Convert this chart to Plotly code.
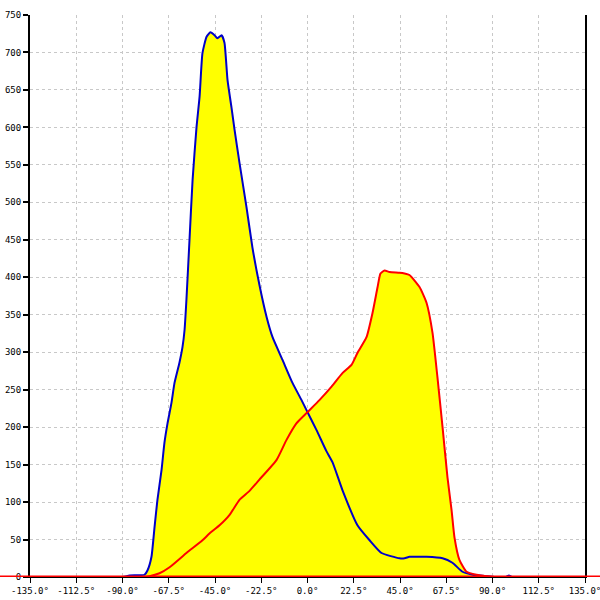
import plotly.graph_objects as go

# Blue series (angle in degrees, count)
blue_x = [-135, -90, -86.6, -79.3, -77.8, -75.9, -74.4, -73.0, -71.0, -69.6, -68.1, -66.2, -64.7,
          -62.3, -60.8, -59.8, -58.9, -57.4, -55.9, -54.0, -52.5, -51.1, -49.1, -47.2, -45.2,
          -43.8, -41.8, -40.4, -38.9, -37.0, -35.5, -33.1, -29.7, -26.8, -23.4, -19.9, -17.0,
          -12.2, -7.3, -2.9, 0.0, 4.4, 9.2, 12.2, 17.0, 24.3, 30.2, 36.0, 44.8, 47.2, 49.6,
          51.1, 57.9, 65.7, 70.5, 75.4, 80.3, 87.1, 91.0, 96.5, 98.0, 99.5, 135]
blue_y = [0, 0, 2, 3, 9, 27, 67, 103, 143, 179, 205, 232, 259,
          286, 307, 330, 370, 450, 530, 600, 641, 699, 721, 727, 723,
          719, 723, 713, 663, 627, 597, 553, 494, 440, 390, 347, 320,
          290, 259, 236, 220, 196, 168, 153, 116, 69, 49, 32, 25, 25, 27,
          27, 27, 25, 19, 7, 3, 1, 0, 0, 2, 0, 0]

# Red series (angle in degrees, count)
red_x = [-135, -80.3, -76.9, -72.0, -67.1, -58.9, -51.1, -47.7, -42.8, -37.9, -33.1, -28.2,
         -23.4, -15.1, -10.2, -5.4, 0.0, 5.8, 11.7, 17.0, 21.4, 24.3, 28.7, 31.6, 34.1, 35.5,
         37.5, 39.9, 44.8, 47.2, 49.6, 54.5, 57.9, 60.8, 63.2, 65.7, 68.1, 70.1, 71.5, 73.9,
         77.4, 82.2, 87.1, 91.0, 135]
red_y = [0, 0, 1, 5, 13, 32, 49, 58, 69, 83, 103, 115,
         130, 156, 183, 205, 220, 236, 254, 272, 283, 299, 320, 352, 387, 405,
         409, 407, 406, 405, 403, 387, 366, 326, 267, 200, 133, 89, 53, 23,
         7, 3, 1, 0, 0]

x_ticks = [-135 + 22.5 * i for i in range(13)]
x_labels = [f"{v:.1f}°" for v in x_ticks]
y_ticks = list(range(0, 751, 50))
y_labels = [str(v) for v in y_ticks]

fig = go.Figure()
# fills first
for xs, ys in ((blue_x, blue_y), (red_x, red_y)):
    fig.add_trace(go.Scatter(x=xs, y=ys, mode="lines", fill="tozeroy",
                             fillcolor="#FFFF00", line=dict(width=0, shape="spline", smoothing=0.5),
                             showlegend=False, hoverinfo="skip"))
# then lines
fig.add_trace(go.Scatter(x=blue_x, y=blue_y, mode="lines",
                         line=dict(color="#0000C8", width=2, shape="spline", smoothing=0.5),
                         showlegend=False, hoverinfo="skip"))
fig.add_trace(go.Scatter(x=red_x, y=red_y, mode="lines",
                         line=dict(color="#FF0000", width=2, shape="spline", smoothing=0.5),
                         showlegend=False, hoverinfo="skip"))

fig.add_shape(type="line", xref="paper", yref="y", x0=-0.06, x1=1.03, y0=0, y1=0,
              line=dict(color="#FF0000", width=3), layer="above")

font = dict(family="DejaVu Sans Mono", size=9, color="#000000")
fig.update_layout(
    width=600, height=600,
    margin=dict(l=30, r=15, t=15, b=23),
    paper_bgcolor="white", plot_bgcolor="white",
    xaxis=dict(range=[-135, 135], tickvals=x_ticks, ticktext=x_labels, automargin=False,
               ticklabeloverflow="allow",
               showgrid=True, gridcolor="#C8C8C8", griddash="3px,3px", gridwidth=1,
               zeroline=False, showline=True, linecolor="black", linewidth=1,
               ticks="outside", ticklen=5, tickcolor="black", tickfont=font),
    yaxis=dict(range=[0, 750], tickvals=y_ticks, ticktext=y_labels, automargin=False,
               ticklabeloverflow="allow",
               showgrid=True, gridcolor="#C8C8C8", griddash="3px,3px", gridwidth=1,
               zeroline=False, showline=True, mirror=True, linecolor="black", linewidth=2,
               ticks="outside", ticklen=5, tickcolor="black", tickwidth=2, tickfont=font),
)

fig.write_html("out.html", config={"displayModeBar": False},
               post_script="document.body.style.margin='0';")
